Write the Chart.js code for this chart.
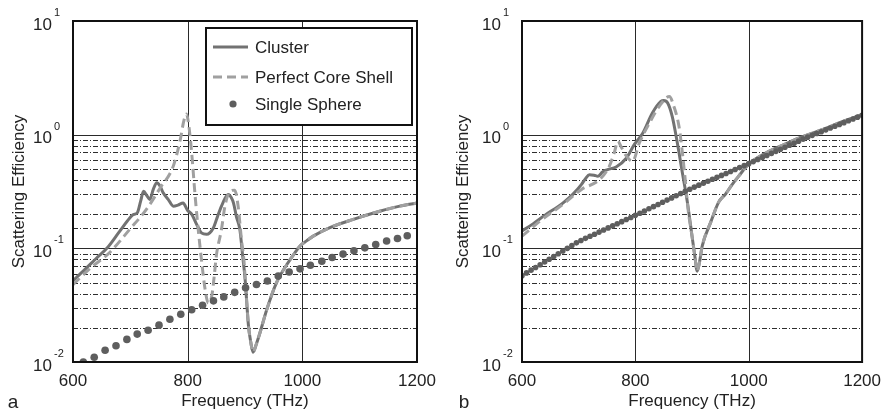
<!DOCTYPE html>
<html>
<head>
<meta charset="utf-8">
<script src="https://cdn.jsdelivr.net/npm/chart.js@4/dist/chart.umd.min.js"></script>
<style>
  html, body { margin: 0; padding: 0; background: #fff; }
  #wrap { position: relative; width: 890px; height: 417px; }
  .panel { position: absolute; top: 0; width: 445px; height: 417px; }
</style>
</head>
<body>
<div id="wrap">
  <div class="panel" style="left:0"><canvas id="ca" width="445" height="417"></canvas></div>
  <div class="panel" style="left:445px"><canvas id="cb" width="445" height="417"></canvas></div>
</div>
<script>
// ---------- data ----------
const seriesNames = ['Cluster', 'Perfect Core Shell', 'Single Sphere'];
const xTickValues = [600, 800, 1000, 1200];
const yDecades = [0.01, 0.1, 1, 10];
const panelLetters = ['a', 'b'];

// panel a
const aClusterX = [600,620,640,659,680,699,705,712,718,723,729,734,740,746,752,757,766,775,783,792,800,807,815,824,833,845,852,859,865,871,876,880,885,891,896,900,906,910,914,920,926,938,955,973,986,996,1008,1019,1048,1089,1135,1170,1200];
const aClusterY = [0.052,0.0646,0.081,0.10,0.138,0.185,0.198,0.205,0.26,0.318,0.29,0.269,0.33,0.377,0.352,0.31,0.27,0.235,0.24,0.25,0.215,0.2,0.165,0.137,0.133,0.152,0.19,0.235,0.275,0.298,0.28,0.25,0.19,0.147,0.085,0.055,0.021,0.015,0.0122,0.0145,0.018,0.029,0.05,0.072,0.09,0.105,0.117,0.128,0.152,0.18,0.212,0.235,0.25];
const aShellX = [600,632,664,699,728,752,775,787,793,798,802,807,813,819,824,830,836,842,846,850,859,865,874,882,888,894,898,902,906,910,914,920,926,938,955,973,986,996,1008,1019,1048,1089,1135,1170,1200];
const aShellY = [0.048,0.068,0.092,0.147,0.22,0.34,0.53,0.9,1.3,1.52,1.2,0.69,0.29,0.137,0.08,0.045,0.033,0.038,0.055,0.086,0.147,0.235,0.318,0.325,0.235,0.117,0.08,0.04,0.021,0.015,0.0122,0.0145,0.018,0.029,0.05,0.072,0.09,0.105,0.117,0.128,0.152,0.18,0.212,0.235,0.25];
const aSphereX = [618,637,656,675,694,712,731,750,769,788,807,826,845,863,882,901,920,939,958,977,996,1014,1034,1052,1071,1090,1109,1128,1147,1166,1183];
const aSphereY = [0.010,0.011,0.0127,0.0139,0.0158,0.0176,0.019,0.0211,0.0238,0.0263,0.0288,0.0316,0.0345,0.0374,0.041,0.045,0.048,0.0516,0.057,0.062,0.066,0.071,0.077,0.083,0.089,0.095,0.101,0.108,0.116,0.122,0.129];

// panel b
const bClusterX = [600,620,640,672,690,705,712,719,727,734,742,751,766,784,798,813,830,845,850,857,865,874,883,892,900,905,909,913,918,933,947,959,970,982,1000,1030,1058,1088,1128,1165,1200];
const bClusterY = [0.142,0.165,0.195,0.25,0.3,0.365,0.41,0.445,0.44,0.43,0.47,0.493,0.52,0.62,0.817,1.03,1.55,1.96,2.0,1.9,1.45,0.85,0.46,0.25,0.128,0.085,0.063,0.075,0.105,0.17,0.255,0.3,0.36,0.43,0.55,0.69,0.8,0.93,1.1,1.3,1.5];
const bShellX = [600,632,672,705,737,754,763,769,775,784,795,807,825,842,860,868,877,883,888,893,900,905,909,913,918,933,947,959,970,982,1000,1030,1058,1088,1128,1165,1200];
const bShellY = [0.128,0.174,0.243,0.33,0.403,0.527,0.7,0.875,0.78,0.65,0.583,0.845,1.27,1.77,2.17,1.77,1.18,0.69,0.40,0.22,0.128,0.085,0.063,0.075,0.105,0.17,0.255,0.3,0.36,0.43,0.55,0.69,0.8,0.93,1.1,1.3,1.5];
const bSphereX = [600,608,616,624,632,640,648,656,664,672,680,688,696,704,712,720,728,736,744,752,760,768,776,784,792,800,808,816,824,832,840,848,856,864,872,880,888,896,904,912,920,928,936,944,952,960,968,976,984,992,1000,1008,1016,1024,1032,1040,1048,1056,1064,1072,1080,1088,1096,1104,1112,1120,1128,1136,1144,1152,1160,1168,1176,1184,1192,1200];
const bSphereY = [0.0575,0.0608,0.0643,0.0679,0.0718,0.0759,0.0802,0.0847,0.0895,0.0946,0.100,0.1057,0.1117,0.1173,0.1224,0.1276,0.1331,0.1389,0.1449,0.1512,0.1578,0.1646,0.1717,0.1791,0.1869,0.195,0.2038,0.213,0.2227,0.2327,0.2432,0.2542,0.2657,0.2777,0.2903,0.3034,0.3171,0.3314,0.3457,0.3596,0.3741,0.3892,0.4049,0.4212,0.4383,0.456,0.4744,0.4935,0.5134,0.5341,0.5559,0.5794,0.6039,0.6295,0.6561,0.6839,0.7129,0.743,0.7745,0.8072,0.8414,0.877,0.9141,0.9506,0.9863,1.023,1.062,1.102,1.143,1.186,1.23,1.276,1.324,1.374,1.426,1.479];

// ---------- styling ----------
const FONT = '"Liberation Sans", Arial, Helvetica, sans-serif';
const TEXT = '#222';
const C_CLUSTER = '#727272';
const C_SHELL = '#a0a0a0';
const C_SPHERE = '#5e5e5e';

Chart.defaults.font.family = FONT;
Chart.defaults.color = TEXT;

function pts(xs, ys) { return xs.map((x, i) => ({ x: x, y: ys[i] })); }

const framePlugin = {
  id: 'framePlugin',
  beforeDatasetsDraw(chart) {
    const ctx = chart.ctx, a = chart.chartArea;
    const ys = chart.scales.y, xs = chart.scales.x;
    ctx.save();
    ctx.lineWidth = 1;
    ys.ticks.forEach(t => {
      const v = t.value;
      if (v <= yDecades[0] * 1.0001 || v >= yDecades[yDecades.length - 1] * 0.9999) return;
      const lg = Math.log10(v);
      const major = Math.abs(lg - Math.round(lg)) < 1e-6;
      const p = Math.round(ys.getPixelForValue(v)) + 0.5;
      if (major) {
        ctx.setLineDash([]);
        ctx.strokeStyle = '#2a2a2a';
      } else if (v < 1) {
        ctx.setLineDash([5, 2, 1, 2]);
        ctx.strokeStyle = '#2e2e2e';
      } else return;
      ctx.beginPath(); ctx.moveTo(a.left, p); ctx.lineTo(a.right, p); ctx.stroke();
    });
    ctx.setLineDash([]);
    ctx.strokeStyle = '#2a2a2a';
    xTickValues.slice(1, -1).forEach(v => {
      const p = Math.round(xs.getPixelForValue(v)) + 0.5;
      ctx.beginPath(); ctx.moveTo(p, a.top); ctx.lineTo(p, a.bottom); ctx.stroke();
    });
    ctx.restore();
  },
  afterDraw(chart, args, opts) {
    const ctx = chart.ctx, a = chart.chartArea;
    const ys = chart.scales.y;
    ctx.save();
    // frame
    ctx.strokeStyle = '#111';
    ctx.lineWidth = 2;
    ctx.strokeRect(a.left, a.top, a.right - a.left, a.bottom - a.top);
    // y tick labels with superscript exponent
    ctx.fillStyle = TEXT;
    yDecades.forEach(v => {
      const p = ys.getPixelForValue(v);
      const e = Math.round(Math.log10(v));
      ctx.font = '17px ' + FONT;
      ctx.textAlign = 'right';
      ctx.textBaseline = 'middle';
      ctx.fillText('10', a.left - 21, p + 4);
      ctx.font = '11px ' + FONT;
      ctx.textAlign = 'left';
      ctx.fillText(String(e), a.left - 19, p - 8);
    });
    // panel letter
    ctx.font = '19px ' + FONT;
    ctx.textAlign = 'center';
    ctx.textBaseline = 'middle';
    ctx.fillText(opts.letter, opts.letterX, 403);
    // legend
    if (opts.legend) {
      const L = opts.legend;
      ctx.fillStyle = '#fff';
      ctx.fillRect(L.x, L.y, L.w, L.h);
      ctx.strokeStyle = '#111';
      ctx.lineWidth = 2;
      ctx.strokeRect(L.x, L.y, L.w, L.h);
      const ds = chart.data.datasets;
      const rows = [47, 77, 104];
      ds.forEach((d, i) => {
        const y = rows[i];
        if (d.showLine === false) {
          ctx.fillStyle = d.pointBackgroundColor;
          ctx.beginPath(); ctx.arc(233, y, 3.6, 0, Math.PI * 2); ctx.fill();
        } else {
          ctx.strokeStyle = d.borderColor;
          ctx.lineWidth = d.borderWidth;
          ctx.setLineDash(d.borderDash || []);
          ctx.beginPath(); ctx.moveTo(213, y); ctx.lineTo(248, y); ctx.stroke();
          ctx.setLineDash([]);
        }
        ctx.fillStyle = TEXT;
        ctx.font = '17px ' + FONT;
        ctx.textAlign = 'left';
        ctx.textBaseline = 'middle';
        ctx.fillText(d.label, 255, y + 1);
      });
    }
    ctx.restore();
  }
};

function makeChart(id, cl, sh, sp, opts) {
  const datasets = [
    { label: seriesNames[0], data: cl, borderColor: C_CLUSTER, borderWidth: 3, pointRadius: 0,
      cubicInterpolationMode: 'monotone', order: 2, fill: false },
    { label: seriesNames[1], data: sh, borderColor: C_SHELL, borderWidth: 3, borderDash: [9, 5], pointRadius: 0,
      cubicInterpolationMode: 'monotone', order: 1, fill: false },
    { label: seriesNames[2], data: sp, showLine: false, pointRadius: opts.dotR, pointBorderWidth: 0,
      pointBackgroundColor: C_SPHERE, pointBorderColor: C_SPHERE, order: 0 }
  ];
  return new Chart(document.getElementById(id), {
    type: 'line',
    data: { datasets },
    plugins: [framePlugin],
    options: {
      responsive: false,
      animation: false,
      devicePixelRatio: 1,
      layout: { padding: { left: 0, right: opts.padRight, top: 21, bottom: 0 } },
      plugins: {
        legend: { display: false },
        tooltip: { enabled: false },
        framePlugin: { letter: opts.letter, letterX: opts.letterX, legend: opts.legend }
      },
      scales: {
        x: {
          type: 'linear', min: 600, max: 1200,
          afterBuildTicks: s => { s.ticks = xTickValues.map(v => ({ value: v })); },
          ticks: { font: { size: 17 }, color: TEXT, padding: 9, maxRotation: 0, autoSkip: false,
                   callback: v => String(v) },
          grid: { display: false, drawTicks: false },
          border: { display: false },
          title: { display: true, text: 'Frequency (THz)', font: { size: 17 }, color: TEXT, padding: { top: 0, bottom: 5 } },
          afterFit: s => { s.height = 55; }
        },
        y: {
          type: 'logarithmic', min: yDecades[0], max: yDecades[yDecades.length - 1],
          ticks: { display: false },
          grid: { display: false, drawTicks: false },
          border: { display: false },
          title: { display: true, text: 'Scattering Efficiency', font: { size: 17 }, color: TEXT, padding: { top: opts.titlePad, bottom: 0 } },
          afterFit: s => { s.width = opts.yWidth; }
        }
      }
    }
  });
}

makeChart('ca', pts(aClusterX, aClusterY), pts(aShellX, aShellY), pts(aSphereX, aSphereY),
  { padRight: 28, yWidth: 73, titlePad: 9, letter: panelLetters[0], letterX: 13, dotR: 3.8,
    legend: { x: 206, y: 28, w: 206, h: 97 } });
makeChart('cb', pts(bClusterX, bClusterY), pts(bShellX, bShellY), pts(bSphereX, bSphereY),
  { padRight: 26, yWidth: 77, titlePad: 8, letter: panelLetters[1], letterX: 19, dotR: 2.8, legend: null });
</script>
</body>
</html>
